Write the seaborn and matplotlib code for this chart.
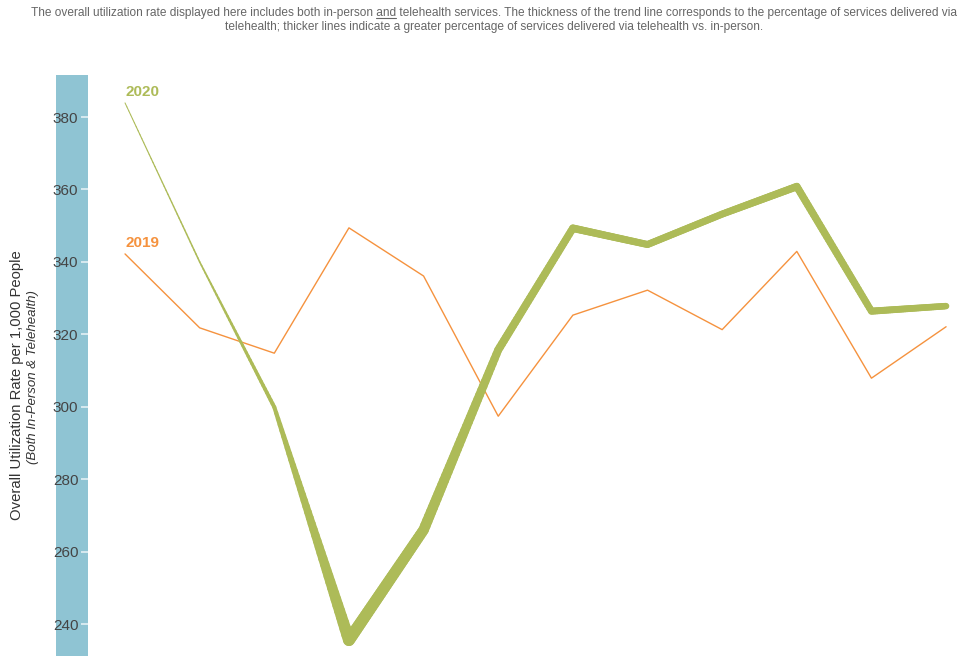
import numpy as np
import pandas as pd
import matplotlib
matplotlib.use("Agg")
import matplotlib.pyplot as plt
from matplotlib.collections import LineCollection
import seaborn as sns

# ---- data ----
months = list(range(12))
rate_2019 = [342.2, 321.8, 314.8, 349.4, 336.1, 297.4, 325.3, 332.2, 321.3, 342.9, 307.9, 322.1]
rate_2020 = [383.9, 340.0, 299.9, 235.6, 266.0, 315.7, 349.3, 344.8, 353.2, 360.8, 326.4, 327.8]
# relative telehealth share (drives line thickness, in px)
telehealth_width_2020 = [1.0, 1.6, 4.0, 12.0, 10.5, 8.0, 7.5, 7.0, 7.0, 7.5, 7.0, 6.5]
yticks = [240, 260, 280, 300, 320, 340, 360, 380]
series_labels = ["2019", "2020"]

C2019 = "#f5923e"
C2020 = "#adbb58"
BAND = "#8fc4d3"

sns.set_style("white")
plt.rcParams["font.family"] = ["Liberation Sans", "DejaVu Sans"]

W, H = 964, 656
fig = plt.figure(figsize=(W / 100, H / 100), dpi=100)

# blue band behind y axis
band = fig.add_axes([56 / W, 0, 32 / W, (H - 75) / H], zorder=0)
band.set_facecolor(BAND)
band.set_xticks([])
band.set_yticks([])
for s in band.spines.values():
    s.set_visible(False)

ax = fig.add_axes([88 / W, 0, (W - 88) / W, (H - 75) / H], zorder=1)
ax.set_facecolor("none")

df19 = pd.DataFrame({"month": months, "rate": rate_2019})
sns.lineplot(data=df19, x="month", y="rate", ax=ax, color=C2019, linewidth=1.0, zorder=3)

# 2020 variable width line
segs, widths = [], []
n_sub = 40
for i in range(len(months) - 1):
    xs = np.linspace(months[i], months[i + 1], n_sub + 1)
    ys = np.linspace(rate_2020[i], rate_2020[i + 1], n_sub + 1)
    ws = np.linspace(telehealth_width_2020[i], telehealth_width_2020[i + 1], n_sub + 1)
    for k in range(n_sub):
        segs.append([(xs[k], ys[k]), (xs[k + 1], ys[k + 1])])
        widths.append(0.72 * (ws[k] + ws[k + 1]) / 2)
lc = LineCollection(segs, linewidths=widths, colors=C2020, capstyle="round", joinstyle="round", zorder=4)
ax.add_collection(lc)

ax.set_xlim(-0.496, 11.24)
ax.set_ylim(231.2, 391.6)
ax.set_xticks([])
ax.set_yticks(yticks)
ax.set_yticklabels([str(t) for t in yticks], fontsize=11, color="#444444")
ax.tick_params(axis="y", direction="out", length=5, width=1.2, color="#e4f0f4", pad=2, left=True)
for s in ax.spines.values():
    s.set_visible(False)
ax.set_xlabel("")
ax.set_ylabel("")

# series labels
ax.text(months[0], rate_2020[0] + 1.0, series_labels[1], color=C2020, fontsize=11, fontweight="bold",
        ha="left", va="bottom")
ax.text(months[0], rate_2019[0] + 1.0, series_labels[0], color=C2019, fontsize=11, fontweight="bold",
        ha="left", va="bottom")

# y labels
fig.text(17 / W, 1 - 385 / H, "Overall Utilization Rate per 1,000 People", rotation=90,
         ha="center", va="center", fontsize=10.7, color="#333333")
fig.text(33 / W, 1 - 377 / H, "(Both In-Person & Telehealth)", rotation=90, style="italic",
         ha="center", va="center", fontsize=9.5, color="#333333")

# title / note
tcol = "#666666"
fs = 8.55
line1a = "The overall utilization rate displayed here includes both in-person "
line1b = "and"
line1c = " telehealth services. The thickness of the trend line corresponds to the percentage of services delivered via"
line1 = line1a + line1b + line1c
cx = 494 / W
t1 = fig.text(cx, 1 - 13 / H, line1, ha="center", va="center", fontsize=fs, color=tcol)
fig.text(cx, 1 - 27 / H, "telehealth; thicker lines indicate a greater percentage of services delivered via telehealth vs. in-person.",
         ha="center", va="center", fontsize=fs, color=tcol)

renderer = fig.canvas.get_renderer()
bb_full = t1.get_window_extent(renderer)
tmp = fig.text(0, 0, line1a, fontsize=fs)
w_a = tmp.get_window_extent(renderer).width
tmp.remove()
tmp = fig.text(0, 0, line1b, fontsize=fs)
w_b = tmp.get_window_extent(renderer).width
tmp.remove()
x0 = bb_full.x0 + w_a
x1 = x0 + w_b
yline = bb_full.y0 + 1
fig.add_artist(plt.Line2D([x0 / W, x1 / W], [yline / H, yline / H], transform=fig.transFigure,
                          color=tcol, linewidth=0.8))

fig.savefig("out.png", dpi=100)
